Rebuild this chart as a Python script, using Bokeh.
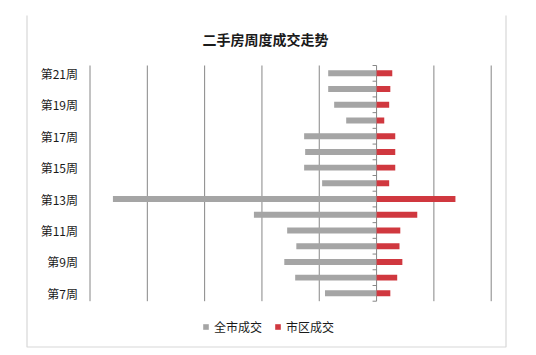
from bokeh.plotting import figure
from bokeh.models import Label, BoxAnnotation, Legend, LegendItem, ColumnDataSource
from bokeh.core.properties import value
from bokeh.embed import file_html
from bokeh.resources import INLINE

# ---- data ----
weeks = ["第7周", "第8周", "第9周", "第10周", "第11周", "第12周", "第13周", "第14周",
         "第15周", "第16周", "第17周", "第18周", "第19周", "第20周", "第21周"]
city_deals = [450, 710, 805, 700, 780, 1070, 2300, 475, 632, 623, 632, 265, 370, 422, 422]   # 全市成交
urban_deals = [120, 180, 225, 200, 207, 355, 688, 110, 163, 163, 163, 67, 110, 120, 137]     # 市区成交
title_text = "二手房周度成交走势"
series_names = ["全市成交", "市区成交"]
x_ticks = [-2500, -2000, -1500, -1000, -500, 0, 500, 1000]

GRAY = "#a5a5a5"
RED = "#d0383f"
LINE = "#868686"
BORDER = "#7a7a7a"
TEXT = "#1a1a1a"
FONT = "Noto Sans CJK SC"

# ---- layout (canvas pixels) ----
W, H = 536, 355
FR_L, FR_R, FR_T, FR_B = 25, 507, 15, 348          # frame box
PA_L, PA_R, PA_T, PA_B = 89.5, 490.7, 65.0, 300.7  # plotting area (bars/grid)

n = len(weeks)
pos = list(range(n))
sx = (PA_R - PA_L) / (x_ticks[-1] - x_ticks[0])
sy = (PA_B - PA_T) / n
x0 = x_ticks[0] - (PA_L - FR_L) / sx
x1 = x_ticks[-1] + (FR_R - PA_R) / sx
y0 = -0.5 - (FR_B - PA_B) / sy
y1 = n - 0.5 + (PA_T - FR_T) / sy

def x_at(px):
    return x_ticks[0] + (px - PA_L) / sx

src = ColumnDataSource(dict(
    y=pos,
    city_neg=[-v for v in city_deals],
    urban=urban_deals,
    zero=[0] * n,
))

p = figure(width=W, height=H, output_backend="svg", toolbar_location=None,
           x_axis_type=None, y_axis_type=None,
           x_range=(x0, x1), y_range=(y0, y1),
           min_border_left=FR_L, min_border_right=W - FR_R,
           min_border_top=FR_T, min_border_bottom=H - FR_B)
p.outline_line_color = None
p.background_fill_color = "white"
p.border_fill_color = "white"

# vertical grid lines (incl. zero axis) spanning the category range
p.segment(x0=x_ticks, x1=x_ticks, y0=[-0.5] * len(x_ticks), y1=[n - 0.5] * len(x_ticks),
          line_color=LINE, line_width=1)

bar_h = 0.38
r_city = p.hbar(y="y", left="city_neg", right="zero", height=bar_h, source=src,
                fill_color=GRAY, line_color=None)
r_urban = p.hbar(y="y", left="zero", right="urban", height=bar_h, source=src,
                 fill_color=RED, line_color=None)

# small ticks on zero axis at category boundaries
tick_len = 4 / sx
bounds = [i - 0.5 for i in pos] + [pos[-1] + 0.5]
p.segment(x0=[-tick_len] * len(bounds), x1=[0] * len(bounds), y0=bounds, y1=bounds,
          line_color=LINE, line_width=1)

# category labels (every other week)
lab_pos = pos[::2]
p.text(x=[x_at(77.5)] * len(lab_pos), y=lab_pos, text=[weeks[i] for i in lab_pos],
       text_align="right", text_baseline="middle", text_font=value(FONT),
       text_font_size="12px", text_color=TEXT)

# title
p.add_layout(Label(x=265 - FR_L, y=FR_B - 38, x_units="screen", y_units="screen",
                   text=title_text, text_align="center", text_baseline="middle",
                   text_font=FONT, text_font_size="14px", text_font_style="bold",
                   text_color=TEXT))

# outer border (left, right, bottom)
p.add_layout(BoxAnnotation(left=1.5, right=480.5, bottom=1.5, top=FR_B + 50,
                           left_units="screen", right_units="screen",
                           bottom_units="screen", top_units="screen",
                           fill_alpha=0, line_color=BORDER, line_width=1.2))

legend = Legend(items=[LegendItem(label=series_names[0], renderers=[r_city]),
                       LegendItem(label=series_names[1], renderers=[r_urban])],
                orientation="horizontal", location=(202 - FR_L, FR_B - 335),
                glyph_width=7, glyph_height=7, label_standoff=5, spacing=12,
                label_height=14, padding=0, margin=0, border_line_color=None,
                background_fill_alpha=0,
                label_text_font=FONT, label_text_font_size="12px", label_text_color=TEXT)
p.add_layout(legend, "center")

open("out.html", "w").write(file_html(p, INLINE))
